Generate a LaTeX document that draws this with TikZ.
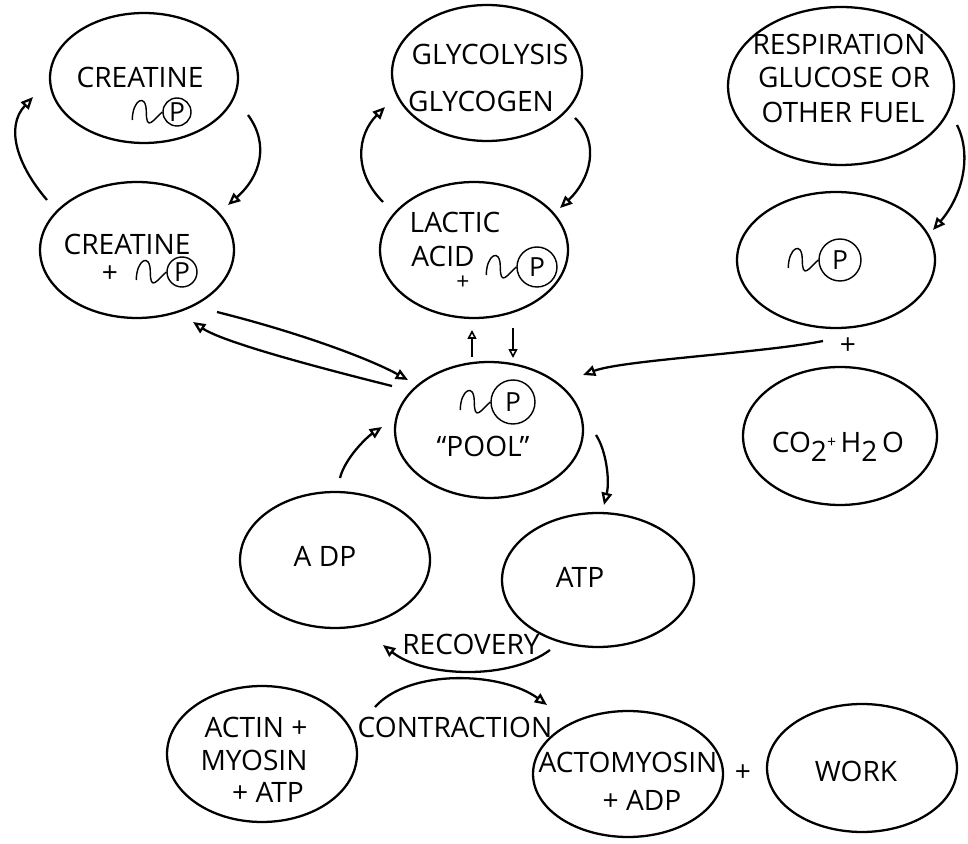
\documentclass[tikz,border=0pt]{standalone}
\usepackage{fontspec}
\setmainfont{Open Sans}
\usetikzlibrary{shapes.geometric,arrows.meta,calc}
\tikzset{
  ell/.style={draw, ellipse, line width=1.3pt, inner sep=0pt},
  lbl/.style={font=\fontsize{16}{19}\selectfont, inner sep=0pt, anchor=base},
  plus/.style={font=\fontsize{16}{19}\selectfont, inner sep=0pt},
  pc/.style={draw, circle, line width=0.8pt, inner sep=0pt, font=\fontsize{15}{15}\selectfont},
  conn/.style={line width=1.3pt, -{Triangle[open,length=7pt,width=6pt]}},
  smallconn/.style={line width=0.9pt, -{Triangle[open,length=5pt,width=5pt]}},
  sq/.style={line width=0.8pt},
}
\newcommand\squig[1]{\draw[sq] ($(#1.west)+(-30,8)$) .. controls +(0,-20) and +(0,-20) .. ($(#1.west)+(-16,0)$) .. controls +(0,20) and +(-9,8) .. (#1.west);}
\newcommand\sbs[1]{\raisebox{-5pt}{#1}}
\begin{document}
\begin{tikzpicture}[x=0.02cm,y=-0.02cm]
\useasboundingbox (0,0) rectangle (968,844);
% ellipses
\node[ell, minimum width=3.76cm, minimum height=2.6cm]  (cr1)  at (144,78)  {};
\node[ell, minimum width=3.88cm, minimum height=2.72cm] (cr2)  at (137,250) {};
\node[ell, minimum width=3.8cm,  minimum height=2.72cm] (gly)  at (487,73)  {};
\node[ell, minimum width=3.76cm, minimum height=2.72cm] (lac)  at (474,250) {};
\node[ell, minimum width=4.52cm, minimum height=3.16cm] (resp) at (841,86)  {};
\node[ell, minimum width=3.96cm, minimum height=2.72cm] (rp)   at (836,260) {};
\node[ell, minimum width=3.88cm, minimum height=2.76cm] (co)   at (840,436) {};
\node[ell, minimum width=3.76cm, minimum height=2.72cm] (pool) at (489,430) {};
\node[ell, minimum width=3.8cm,  minimum height=2.72cm] (adp)  at (335,560) {};
\node[ell, minimum width=3.84cm, minimum height=2.68cm] (atp)  at (598,580) {};
\node[ell, minimum width=3.8cm,  minimum height=2.72cm] (am)   at (262,754) {};
\node[ell, minimum width=3.8cm,  minimum height=2.52cm] (amy)  at (628,774) {};
\node[ell, minimum width=3.8cm,  minimum height=2.56cm] (work) at (862,768) {};
% texts
\node[lbl] (t1a) at (140,88) {CREATINE};
\node[pc, minimum size=0.56cm] (p1) at (177,112) {P};
\node[lbl] (t2a) at (127,255) {CREATINE};
\node[plus] (t2b) at (110,274) {+};
\node[pc, minimum size=0.6cm] (p2) at (182,272) {P};
\node[lbl] (t3a) at (490,65) {GLYCOLYSIS};
\node[lbl] (t3b) at (481,112) {GLYCOGEN};
\node[lbl] (t4a) at (455,233) {LACTIC};
\node[lbl] (t4b) at (443,267) {ACID};
\node[plus, font=\fontsize{13}{13}\selectfont] (t4c) at (463,283) {+};
\node[pc, minimum size=0.8cm] (p4) at (537,267) {P};
\node[lbl] (t5a) at (839,55) {RESPIRATION};
\node[lbl] (t5b) at (844,88) {GLUCOSE OR};
\node[lbl] (t5c) at (843,123) {OTHER FUEL};
\node[pc, minimum size=0.84cm] (p6) at (840,260) {P};
\node[plus] (plus1) at (848,346) {+};
\node[lbl] (t7) at (838,453) {CO\sbs{2}\raisebox{3pt}{\small+}\,H\sbs{2}\,O};
\node[pc, minimum size=0.88cm] (p8) at (513,402) {P};
\node[lbl] (t8) at (483,457) {“POOL”};
\node[lbl] (t9) at (325,567) {A DP};
\node[lbl] (t10) at (580,588) {ATP};
\node[lbl] (t11a) at (256,738) {ACTIN +};
\node[lbl] (t11b) at (254,770) {MYOSIN};
\node[lbl] (t11c) at (268,803) {+ ATP};
\node[lbl] (t12a) at (628,773) {ACTOMYOSIN};
\node[lbl] (t12b) at (642,810) {+ ADP};
\node[plus] (plus2) at (743,773) {+};
\node[lbl] (t13) at (856,782) {WORK};
\node[lbl] (rec) at (471,655) {RECOVERY};
\node[lbl] (cont) at (455,738) {CONTRACTION};
% squiggles
\squig{p1}\squig{p2}\squig{p4}\squig{p6}\squig{p8}
% connectors
\draw[conn] ($(cr2)+(-90,-50)$) .. controls +(-30,-35) and +(-28,30) .. ($(cr1)+(-111,19)$);
\draw[conn] ($(cr1)+(104,37)$) .. controls +(22,30) and +(32,-28) .. ($(cr2)+(91,-45)$);
\draw[conn] ($(lac)+(-91,-48)$) .. controls +(-30,-30) and +(-28,28) .. ($(gly)+(-102,34)$);
\draw[conn] ($(gly)+(88,45)$) .. controls +(26,25) and +(30,-28) .. ($(lac)+(86,-42)$);
\draw[conn] ($(resp)+(116,39)$) .. controls +(15,30) and +(30,-35) .. ($(rp)+(97,-30)$);
\draw[conn] ($(cr2)+(80,62)$) .. controls +(80,20) and +(-40,-22) .. ($(pool)+(-81,-50)$);
\draw[conn] ($(pool)+(-97,-44)$) .. controls +(-80,-20) and +(30,20) .. ($(cr2)+(56,72)$);
\draw[smallconn] ($(pool)+(-17,-73)$) -- ($(lac)+(-2,80)$);
\draw[smallconn] ($(lac)+(39,78)$) -- ($(pool)+(24,-72)$);
\draw[conn] ($(plus1)+(-25,-5)$) .. controls +(-60,12) and +(40,-15) .. ($(pool)+(94,-55)$);
\draw[conn] ($(adp)+(5,-82)$) .. controls +(5,-20) and +(-15,10) .. ($(pool)+(-107,-3)$);
\draw[conn] ($(pool)+(107,5)$) .. controls +(10,15) and +(6,-25) .. ($(atp)+(6,-75)$);
\draw[conn] ($(rec.base)+(79,-5)$) .. controls +(-40,30) and +(42,33) .. ($(rec.base)+(-88,-10)$);
\draw[conn] ($(cont.base)+(-80,-31)$) .. controls +(35,-39) and +(-45,-33) .. ($(cont.base)+(92,-33)$);
\end{tikzpicture}
\end{document}
